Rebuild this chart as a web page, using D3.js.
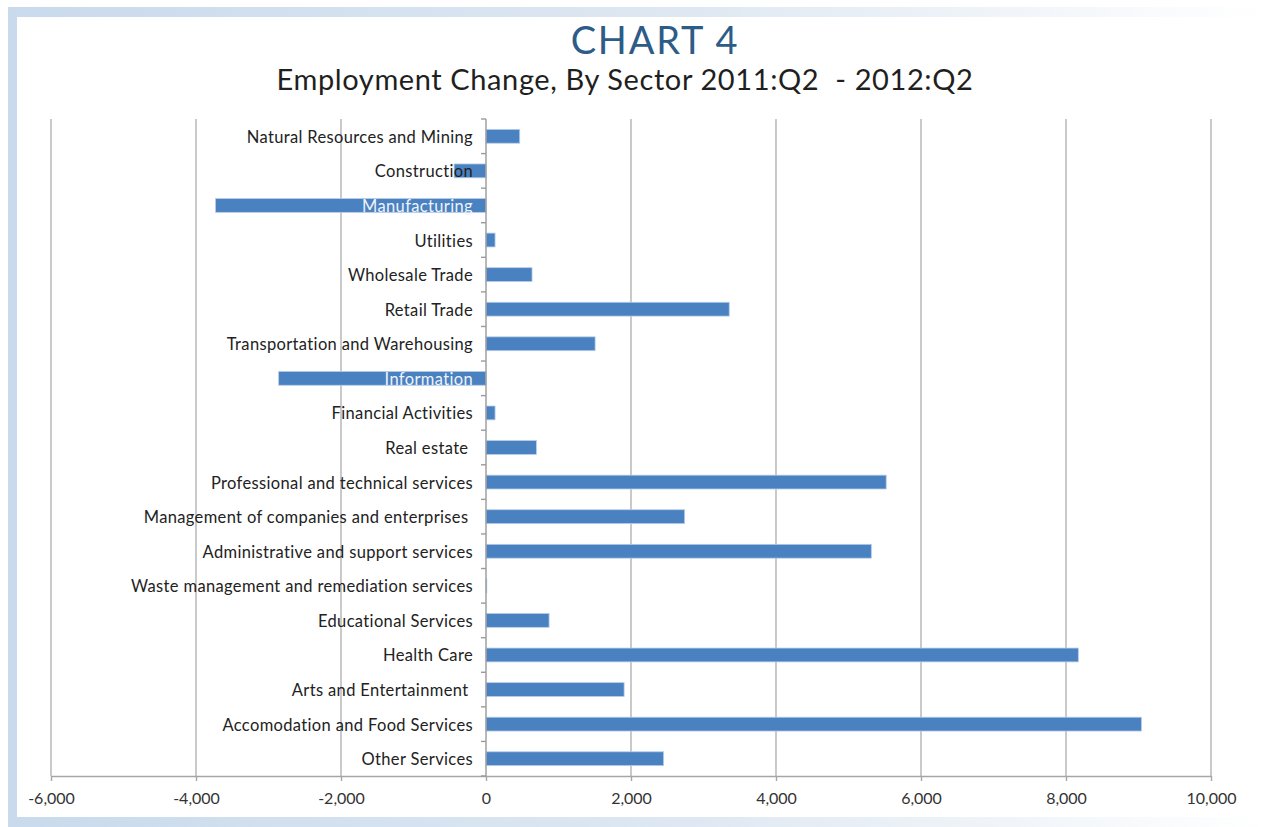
<!DOCTYPE html>
<html>
<head>
<meta charset="utf-8">
<script src="https://cdn.jsdelivr.net/npm/d3@7/dist/d3.min.js"></script>
<style>
  html, body { margin: 0; padding: 0; background: #fff; }
  svg { display: block; }
  .cat { white-space: pre; }
</style>
</head>
<body>
<svg id="chart" width="1264" height="827"></svg>
<script>
// Sectors, top to bottom
const sectors = [
  "Natural Resources and Mining",
  "Construction",
  "Manufacturing",
  "Utilities",
  "Wholesale Trade",
  "Retail Trade",
  "Transportation and Warehousing",
  "Information",
  "Financial Activities",
  "Real estate ",
  "Professional and technical services",
  "Management of companies and enterprises ",
  "Administrative and support services",
  "Waste management and remediation services",
  "Educational Services",
  "Health Care",
  "Arts and Entertainment ",
  "Accomodation and Food Services",
  "Other Services"
];

// Employment change (jobs), 2011:Q2 to 2012:Q2
const employmentChange = [
  465, -440, -3730, 125, 635, 3355, 1505, -2860, 125, 695,
  5520, 2740, 5315, 10, 870, 8170, 1905, 9040, 2450
];

// Value axis ticks
const xTicks = [-6000, -4000, -2000, 0, 2000, 4000, 6000, 8000, 10000];

const titleText = "CHART 4";
const subtitleText = "Employment Change, By Sector 2011:Q2  - 2012:Q2";

const svg = d3.select("#chart");
const W = 1264, H = 827;

// ---- frame with soft blue border that fades to the right
const defs = svg.append("defs");
const grad = defs.append("linearGradient")
  .attr("id", "frameFade").attr("x1", "0").attr("x2", "1").attr("y1", "0").attr("y2", "0");
grad.append("stop").attr("offset", "0").attr("stop-color", "#c9daec");
grad.append("stop").attr("offset", "0.55").attr("stop-color", "#dfe8f2");
grad.append("stop").attr("offset", "1").attr("stop-color", "#ffffff");

svg.append("rect").attr("width", W).attr("height", H).attr("fill", "#fff");
svg.append("rect").attr("x", 8).attr("y", 7).attr("width", W - 8).attr("height", 10).attr("fill", "url(#frameFade)");
svg.append("rect").attr("x", 8).attr("y", 817).attr("width", W - 8).attr("height", 10).attr("fill", "url(#frameFade)");
svg.append("rect").attr("x", 8).attr("y", 7).attr("width", 9).attr("height", 820).attr("fill", "#c9daec");

const font = "Lato, 'Open Sans', sans-serif";

// ---- titles
svg.append("text")
  .attr("x", 655).attr("y", 54)
  .attr("text-anchor", "middle")
  .attr("font-family", font)
  .attr("font-size", 38)
  .attr("letter-spacing", 1.8)
  .attr("fill", "#2c5c87")
  .text(titleText);

svg.append("text")
  .attr("x", 625).attr("y", 90)
  .attr("text-anchor", "middle")
  .attr("font-family", font)
  .attr("font-size", 29)
  .attr("letter-spacing", 0.6)
  .attr("fill", "#1f1f1f")
  .style("white-space", "pre")
  .text(subtitleText);

// ---- scales
const plotTop = 119, plotBottom = 776;
const x = d3.scaleLinear().domain([-6000, 10000]).range([51, 1211]);
const y = d3.scaleBand().domain(sectors).range([plotTop, plotBottom])
  .paddingInner(0.6).paddingOuter(0.3);

// ---- vertical gridlines
svg.append("g").selectAll("line")
  .data(xTicks.filter(t => t !== 0))
  .join("line")
  .attr("x1", d => x(d)).attr("x2", d => x(d))
  .attr("y1", plotTop).attr("y2", plotBottom)
  .attr("stroke", "#b3b3b3").attr("stroke-width", 1.4);

// ---- bottom value axis (plain hyphen for negatives)
const fmt = d3.format(",");
const xAxis = d3.axisBottom(x)
  .tickValues(xTicks)
  .tickFormat(d => fmt(d).replace("\u2212", "-"))
  .tickSizeInner(5).tickSizeOuter(0).tickPadding(12);
const gx = svg.append("g").attr("transform", `translate(0,${plotBottom})`).call(xAxis);
gx.select(".domain").attr("stroke", "#a6a6a6").attr("stroke-width", 1.4);
gx.selectAll(".tick line").attr("stroke", "#a6a6a6").attr("stroke-width", 1.4);
gx.selectAll(".tick text")
  .attr("font-family", font)
  .attr("font-size", 16)
  .attr("fill", "#333");

// ---- bars
svg.append("g").selectAll("rect")
  .data(sectors.map((s, i) => ({ s, v: employmentChange[i] })))
  .join("rect")
  .attr("x", d => x(Math.min(0, d.v)))
  .attr("width", d => Math.max(0.8, Math.abs(x(d.v) - x(0))))
  .attr("y", d => y(d.s))
  .attr("height", y.bandwidth())
  .attr("fill", "#4a81c0")
  .attr("stroke", "#b7cde8")
  .attr("stroke-width", 0.8);

// ---- category axis on the zero line
const x0 = x(0);
svg.append("line")
  .attr("x1", x0).attr("x2", x0).attr("y1", plotTop).attr("y2", plotBottom)
  .attr("stroke", "#9a9a9a").attr("stroke-width", 1.4);
const bounds = d3.range(sectors.length + 1).map(i => plotTop + i * y.step());
svg.append("g").selectAll("line")
  .data(bounds)
  .join("line")
  .attr("x1", x0 - 5).attr("x2", x0)
  .attr("y1", d => d).attr("y2", d => d)
  .attr("stroke", "#9a9a9a").attr("stroke-width", 1.4);

// ---- category labels; a label lying on its own bar is drawn light
const labelRight = x0 - 13;
const labels = svg.append("g").selectAll("text")
  .data(sectors.map((s, i) => ({ s, v: employmentChange[i] })))
  .join("text")
  .attr("class", "cat")
  .attr("x", labelRight)
  .attr("y", d => y(d.s) + y.bandwidth() / 2 + 6.5)
  .attr("text-anchor", "end")
  .attr("font-family", font)
  .attr("font-size", 16.5)
  .attr("letter-spacing", 0.35)
  .attr("fill", "#222")
  .text(d => d.s);

labels.each(function (d) {
  const w = this.getComputedTextLength();
  if (x(d.v) < labelRight - w) d3.select(this).attr("fill", "#eef3fa");
});
</script>
</body>
</html>
